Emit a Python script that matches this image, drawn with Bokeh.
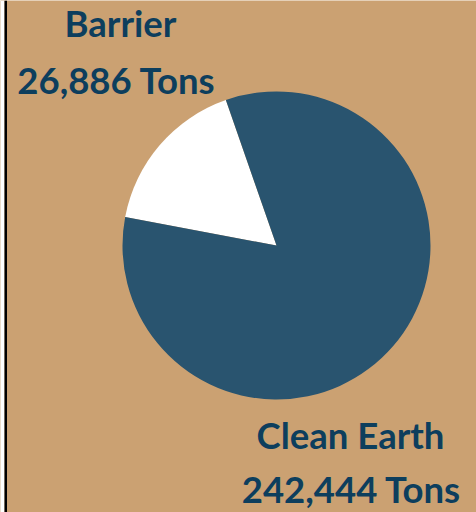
from bokeh.plotting import figure
from bokeh.models import Range1d, ColumnDataSource, BoxAnnotation
from bokeh.core.properties import value
from bokeh.embed import file_html
from bokeh.resources import INLINE
import numpy as np

# Data
categories = ["Barrier", "Clean Earth"]
tons = [26886, 242444]
# slice shares as drawn in the reference (percent of the circle)
slice_share = [16.7, 83.3]
colors = ["#FFFFFF", "#29546F"]

W, H = 476, 512
p = figure(width=W, height=H, output_backend="svg", toolbar_location=None,
           x_range=Range1d(0, W), y_range=Range1d(0, H),
           x_axis_location=None, y_axis_location=None, min_border=0)
p.grid.visible = False
p.outline_line_color = None
p.background_fill_color = "#CBA172"
p.border_fill_color = "#CBA172"

start_offset = np.deg2rad(109.2)
shares = np.array(slice_share) / sum(slice_share)
ends = start_offset + np.cumsum(shares) * 2 * np.pi
starts = np.concatenate([[start_offset], ends[:-1]])

src = ColumnDataSource(dict(cat=categories, start=starts, end=ends, color=colors))
p.wedge(x=276, y=H - 245, radius=154, start_angle="start", end_angle="end",
        fill_color="color", line_color=None, source=src)

# left border strip
p.add_layout(BoxAnnotation(left=0, right=4, fill_color="white", fill_alpha=1, line_color=None))
p.add_layout(BoxAnnotation(left=4, right=6.5, fill_color="black", fill_alpha=1, line_color=None))

labels_name = categories
labels_val = [f"{t:,} Tons" for t in tons]
dy = 14
lab = ColumnDataSource(dict(
    x=[120, 116, 350, 351],
    y=[H - 36.7 + dy, H - 93 + dy, H - 448 + dy, H - 502 + dy],
    t=[labels_name[0], labels_val[0], labels_name[1], labels_val[1]],
))
p.text(x="x", y="y", text="t", source=lab, text_align="center",
       text_baseline="alphabetic", text_font=value("Lato"), text_font_style="bold",
       text_font_size="36.5px", text_color="#0D3E5D")

open("out.html", "w").write(file_html(p, INLINE))
